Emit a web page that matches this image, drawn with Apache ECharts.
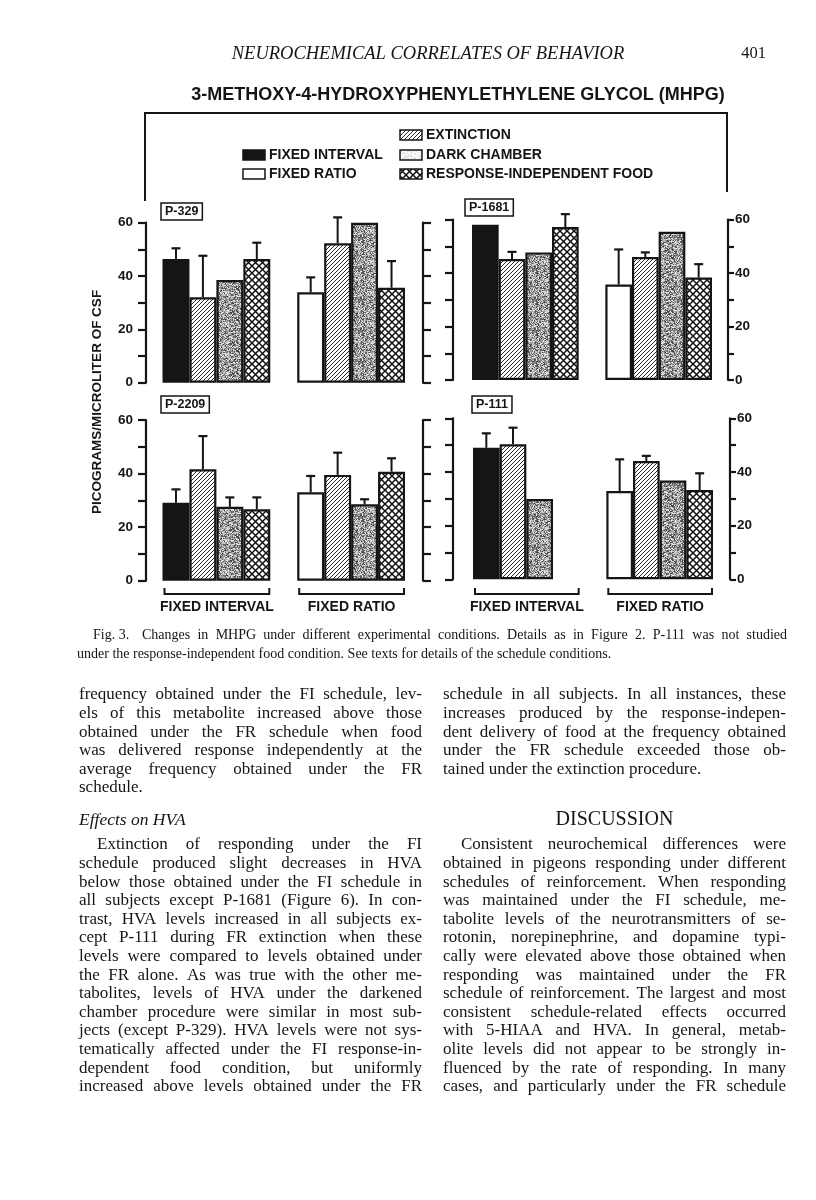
<!DOCTYPE html>
<html><head><meta charset="utf-8">
<script src="https://cdn.jsdelivr.net/npm/echarts@6/dist/echarts.min.js"></script>
<style>html,body{margin:0;padding:0;background:#fff}#c{width:816px;height:1200px}</style>
</head><body><div id="c"></div>
<script>
// ---------------- DATA ----------------
const CATEGORIES = ['FI', 'EXT', 'DARK', 'RIF', '', 'FR', 'EXT', 'DARK', 'RIF'];
const Y_LABELS = [0, 20, 40, 60];
const SUBJECTS = ['P-329', 'P-1681', 'P-2209', 'P-111'];
const GROUPS = ['FIXED INTERVAL', 'FIXED RATIO'];
const LEGEND = ['FIXED INTERVAL', 'FIXED RATIO', 'EXTINCTION', 'DARK CHAMBER', 'RESPONSE-INDEPENDENT FOOD'];

// means (baseline, extinction, dark chamber, response-independent food) and tops of error bars
const P329_FI = [46.4, 32.0, 38.5, 46.4];
const P329_FI_ERR = [50.4, 47.6, null, 52.5];
const P329_FR = [33.9, 52.3, 60.0, 35.6];
const P329_FR_ERR = [39.5, 62.0, null, 45.6];

const P1681_FI = [58.0, 45.2, 47.7, 57.2];
const P1681_FI_ERR = [null, 47.9, null, 62.0];
const P1681_FR = [35.7, 46.0, 55.4, 38.3];
const P1681_FR_ERR = [48.8, 47.7, null, 43.3];

const P2209_FI = [29.1, 41.6, 27.6, 26.7];
const P2209_FI_ERR = [34.1, 54.0, 31.1, 31.1];
const P2209_FR = [33.0, 39.5, 28.5, 40.7];
const P2209_FR_ERR = [39.1, 47.8, 30.4, 45.7];

const P111_FI = [49.0, 50.3, 29.9, null];
const P111_FI_ERR = [54.4, 56.5, null, null];
const P111_FR = [32.9, 44.1, 36.8, 33.3];
const P111_FR_ERR = [44.7, 46.0, null, 39.5];

// ---------------- TEXTS ----------------
const HEADER = 'NEUROCHEMICAL CORRELATES OF BEHAVIOR';
const PAGE_NO = '401';
const TITLE = '3-METHOXY-4-HYDROXYPHENYLETHYLENE GLYCOL (MHPG)';
const Y_TITLE = 'PICOGRAMS/MICROLITER OF CSF';
const CAPTION_FIG = 'Fig. 3.';
const CAPTION_1 = 'Changes in MHPG under different experimental conditions. Details as in Figure 2. P-111 was not studied';
const CAPTION_2 = 'under the response-independent food condition. See texts for details of the schedule conditions.';
const LEFT_A = [
  'frequency obtained under the FI schedule, lev-',
  'els of this metabolite increased above those',
  'obtained under the FR schedule when food',
  'was delivered response independently at the',
  'average frequency obtained under the FR',
  'schedule.'
];
const LEFT_HEAD = 'Effects on HVA';
const LEFT_B = [
  'Extinction of responding under the FI',
  'schedule produced slight decreases in HVA',
  'below those obtained under the FI schedule in',
  'all subjects except P-1681 (Figure 6). In con-',
  'trast, HVA levels increased in all subjects ex-',
  'cept P-111 during FR extinction when these',
  'levels were compared to levels obtained under',
  'the FR alone. As was true with the other me-',
  'tabolites, levels of HVA under the darkened',
  'chamber procedure were similar in most sub-',
  'jects (except P-329). HVA levels were not sys-',
  'tematically affected under the FI response-in-',
  'dependent food condition, but uniformly',
  'increased above levels obtained under the FR'
];
const RIGHT_A = [
  'schedule in all subjects. In all instances, these',
  'increases produced by the response-indepen-',
  'dent delivery of food at the frequency obtained',
  'under the FR schedule exceeded those ob-',
  'tained under the extinction procedure.'
];
const RIGHT_HEAD = 'DISCUSSION';
const RIGHT_B = [
  'Consistent neurochemical differences were',
  'obtained in pigeons responding under different',
  'schedules of reinforcement. When responding',
  'was maintained under the FI schedule, me-',
  'tabolite levels of the neurotransmitters of se-',
  'rotonin, norepinephrine, and dopamine typi-',
  'cally were elevated above those obtained when',
  'responding was maintained under the FR',
  'schedule of reinforcement. The largest and most',
  'consistent schedule-related effects occurred',
  'with 5-HIAA and HVA. In general, metab-',
  'olite levels did not appear to be strongly in-',
  'fluenced by the rate of responding. In many',
  'cases, and particularly under the FR schedule'
];

// ---------------- STYLE HELPERS ----------------
const INK = '#151515';
const SANS = '"Liberation Sans", Arial, Helvetica, sans-serif';
const SERIF = '"Liberation Serif", "Times New Roman", serif';

function makeCanvas(w, h, draw) {
  const c = document.createElement('canvas'); c.width = w; c.height = h;
  draw(c.getContext('2d'), w, h); return c;
}
const hatchCanvas = makeCanvas(4, 4, (g, w, h) => {
  g.fillStyle = '#fff'; g.fillRect(0, 0, w, h);
  g.strokeStyle = '#2a2a2a'; g.lineWidth = 1.0;
  g.beginPath();
  g.moveTo(-1, h + 1); g.lineTo(w + 1, -1);
  g.moveTo(-1, 1); g.lineTo(1, -1);
  g.moveTo(w - 1, h + 1); g.lineTo(w + 1, h - 1);
  g.stroke();
});
const crossCanvas = makeCanvas(7, 7, (g, w, h) => {
  g.fillStyle = '#fff'; g.fillRect(0, 0, w, h);
  g.strokeStyle = '#111'; g.lineWidth = 1.5;
  g.beginPath();
  g.moveTo(0, 0); g.lineTo(w, h);
  g.moveTo(0, h); g.lineTo(w, 0);
  g.stroke();
});
// deterministic grainy gray texture (hash based, no randomness)
function stippleCanvas(base, amp) {
  return makeCanvas(29, 31, (g, w, h) => {
    const img = g.createImageData(w, h);
    for (let y = 0; y < h; y++) for (let x = 0; x < w; x++) {
      let k = (x * 374761393 + y * 668265263) | 0;
      k = Math.imul(k ^ (k >>> 13), 1274126177);
      k = (k ^ (k >>> 16)) >>> 0;
      const t = (k % 1000) / 1000;
      const v = Math.max(0, Math.min(255, base + (t - 0.5) * 2 * amp));
      const i = (y * w + x) * 4;
      img.data[i] = img.data[i + 1] = img.data[i + 2] = v; img.data[i + 3] = 255;
    }
    g.putImageData(img, 0, 0);
  });
}
const HATCH = { image: hatchCanvas, repeat: 'repeat' };
const CROSS = { image: crossCanvas, repeat: 'repeat' };
const STIPPLE = { image: stippleCanvas(150, 95), repeat: 'repeat' };
const LIGHT_STIPPLE = { image: stippleCanvas(240, 25), repeat: 'repeat' };
const FILLS = [INK, HATCH, STIPPLE, CROSS, null, '#fff', HATCH, STIPPLE, CROSS];

// ---------------- PANELS ----------------
const PANELS = [
  { name: SUBJECTS[0], fi: P329_FI, fiErr: P329_FI_ERR, fr: P329_FR, frErr: P329_FR_ERR,
    grid: { left: 162.5, top: 222.7, width: 242.5, height: 160 }, side: 'left', mainOff: 16.5, brOff: 18, tag: [161, 203] },
  { name: SUBJECTS[1], fi: P1681_FI, fiErr: P1681_FI_ERR, fr: P1681_FR, frErr: P1681_FR_ERR,
    grid: { left: 472, top: 219.5, width: 240, height: 160.5 }, side: 'right', mainOff: 16, brOff: 19, tag: [465, 199] },
  { name: SUBJECTS[2], fi: P2209_FI, fiErr: P2209_FI_ERR, fr: P2209_FR, frErr: P2209_FR_ERR,
    grid: { left: 162.5, top: 420, width: 242.5, height: 160.7 }, side: 'left', mainOff: 16.5, brOff: 18, tag: [161, 396] },
  { name: SUBJECTS[3], fi: P111_FI, fiErr: P111_FI_ERR, fr: P111_FR, frErr: P111_FR_ERR,
    grid: { left: 473, top: 418.3, width: 240, height: 161 }, side: 'right', mainOff: 17, brOff: 20, tag: [472, 396] }
];

const grids = [], xAxes = [], yAxes = [], series = [];
function errRender(params, api) {
  const p0 = api.coord([api.value(0), api.value(1)]);
  const p1 = api.coord([api.value(0), api.value(2)]);
  return { type: 'group', children: [
    { type: 'line', shape: { x1: p0[0], y1: p0[1], x2: p1[0], y2: p1[1] }, style: { stroke: INK, lineWidth: 2 } },
    { type: 'line', shape: { x1: p1[0] - 4.5, y1: p1[1], x2: p1[0] + 4.5, y2: p1[1] }, style: { stroke: INK, lineWidth: 2.2 } }
  ] };
}
PANELS.forEach((p, i) => {
  grids.push(Object.assign({ containLabel: false }, p.grid));
  xAxes.push({ type: 'category', gridIndex: i, data: CATEGORIES, boundaryGap: true,
    axisLine: { show: false }, axisTick: { show: false }, axisLabel: { show: false }, splitLine: { show: false } });
  const common = { type: 'value', gridIndex: i, min: 0, max: 60, interval: 10, splitLine: { show: false },
    axisLine: { show: true, onZero: false, lineStyle: { color: INK, width: 2.2 } } };
  const labelsLeft = p.side === 'left';
  yAxes.push(Object.assign({}, common, {
    position: p.side, offset: p.mainOff,
    axisTick: { show: true, length: labelsLeft ? 8 : 6, lineStyle: { color: INK, width: 2.2 } },
    axisLabel: { show: true, margin: labelsLeft ? 13 : 7, color: INK, fontFamily: SANS, fontWeight: 'bold', fontSize: 13.5,
      formatter: v => (Y_LABELS.indexOf(v) >= 0 ? String(v) : '') }
  }));
  yAxes.push(Object.assign({}, common, {
    position: labelsLeft ? 'right' : 'left', offset: p.brOff,
    axisTick: { show: true, length: 8, lineStyle: { color: INK, width: 2.2 } },
    axisLabel: { show: false }
  }));
  const vals = p.fi.concat([null], p.fr);
  const errs = p.fiErr.concat([null], p.frErr);
  series.push({ type: 'bar', xAxisIndex: i, yAxisIndex: i * 2, barWidth: '100%', silent: true,
    data: vals.map((v, k) => v == null ? { value: null } :
      { value: v, itemStyle: { color: FILLS[k], borderColor: INK, borderWidth: 2.2 } }) });
  const ed = [];
  vals.forEach((v, k) => { if (v != null && errs[k] != null) ed.push([k, v, errs[k]]); });
  series.push({ type: 'custom', xAxisIndex: i, yAxisIndex: i * 2, clip: false, z: 5, silent: true,
    encode: { x: 0, y: [1, 2] }, data: ed, renderItem: errRender });
});

// ---------------- TEXT HELPERS ----------------
const mctx = document.createElement('canvas').getContext('2d');
function tw(t, font) { mctx.font = font; return mctx.measureText(t).width; }
function txt(t, x, y, font, extra) {
  return Object.assign({ type: 'text', x: x, y: y, silent: true,
    style: Object.assign({ text: t, font: font, fill: INK, textVerticalAlign: 'middle', verticalAlign: 'middle' }, extra || {}) });
}
function line(els, t, x, y, width, font, justify) {
  if (!justify) { els.push(txt(t, x, y, font)); return; }
  const words = t.split(' ');
  const ws = words.map(w => tw(w, font));
  const total = ws.reduce((a, b) => a + b, 0);
  const gap = words.length > 1 ? (width - total) / (words.length - 1) : 0;
  let cx = x;
  words.forEach((w, i) => { els.push(txt(w, cx, y, font)); cx += ws[i] + gap; });
}
function column(els, lines, x, y0, step, width, font, indentFirst, lastJustify) {
  lines.forEach((t, i) => {
    const ind = (i === 0 && indentFirst) ? 18 : 0;
    const last = i === lines.length - 1;
    line(els, t, x + ind, y0 + i * step, width - ind, font, last ? lastJustify : true);
  });
}

const graphics = [];
// running head
graphics.push(txt(HEADER, 428, 54, 'italic 18.5px ' + SERIF, { textAlign: 'center', align: 'center' }));
graphics.push(txt(PAGE_NO, 766, 54, '16.5px ' + SERIF, { textAlign: 'right', align: 'right' }));
// title
graphics.push(txt(TITLE, 458, 95, 'bold 18px ' + SANS, { textAlign: 'center', align: 'center' }));
// frame
graphics.push({ type: 'polyline', silent: true, shape: { points: [[145, 201], [145, 113], [727, 113], [727, 192]] },
  style: { stroke: INK, lineWidth: 2, fill: null } });
// legend
const LFONT = 'bold 14px ' + SANS;
[[LEGEND[2], HATCH, 400, 135], [LEGEND[0], INK, 243, 155], [LEGEND[3], LIGHT_STIPPLE, 400, 155],
 [LEGEND[1], '#fff', 243, 174], [LEGEND[4], CROSS, 400, 174]].forEach(it => {
  graphics.push({ type: 'rect', silent: true, shape: { x: it[2], y: it[3] - 5, width: 22, height: 10 },
    style: { fill: it[1], stroke: INK, lineWidth: 1.5 } });
  graphics.push(txt(it[0], it[2] + 26, it[3] + 0.5, LFONT));
});
// y title
graphics.push(txt(Y_TITLE, 97, 402, 'bold 13.5px ' + SANS, { textAlign: 'center', align: 'center' }));
graphics[graphics.length - 1].rotation = Math.PI / 2;
// subject tags
PANELS.forEach(p => {
  const f = 'bold 12.5px ' + SANS;
  const w = tw(p.name, f) + 8;
  graphics.push({ type: 'rect', silent: true, shape: { x: p.tag[0], y: p.tag[1], width: w, height: 17 },
    style: { fill: '#fff', stroke: INK, lineWidth: 1.5 } });
  graphics.push(txt(p.name, p.tag[0] + 4, p.tag[1] + 9, f));
});
// caption
const CFONT = '14px ' + SERIF;
graphics.push(txt(CAPTION_FIG, 93, 635, CFONT));
line(graphics, CAPTION_1, 142, 635, 787 - 142, CFONT, true);
graphics.push(txt(CAPTION_2, 77, 654, CFONT));
// body (two justified columns on a common baseline grid)
const BFONT = '17px ' + SERIF;
const STEP = 18.6;
const COL_L = 79, COL_R = 443, COL_W = 343;
column(graphics, LEFT_A, COL_L, 695, STEP, COL_W, BFONT, false, false);
graphics.push(txt(LEFT_HEAD, COL_L, 820, 'italic 17.5px ' + SERIF));
column(graphics, LEFT_B, COL_L, 845, STEP, COL_W, BFONT, true, true);
column(graphics, RIGHT_A, COL_R, 695, STEP, COL_W, BFONT, false, false);
graphics.push(txt(RIGHT_HEAD, COL_R + COL_W / 2, 820, '20px ' + SERIF, { textAlign: 'center', align: 'center' }));
column(graphics, RIGHT_B, COL_R, 845, STEP, COL_W, BFONT, true, true);

const chart = echarts.init(document.getElementById('c'), null, { renderer: 'canvas', width: 816, height: 1200 });
chart.setOption({
  animation: false, backgroundColor: '#fff',
  grid: grids, xAxis: xAxes, yAxis: yAxes, series: series, graphic: { elements: graphics }
});

// group brackets and labels under the bottom panels, located through the category axes
const extra = [];
[2, 3].forEach(i => {
  const slot = chart.convertToPixel({ xAxisIndex: i }, 1) - chart.convertToPixel({ xAxisIndex: i }, 0);
  [[0, 3], [5, 8]].forEach((rg, gi) => {
    const x0 = chart.convertToPixel({ xAxisIndex: i }, rg[0]) - slot / 2 + 2;
    const x1 = chart.convertToPixel({ xAxisIndex: i }, rg[1]) + slot / 2 - 1;
    const y = 594;
    extra.push({ type: 'polyline', silent: true, shape: { points: [[x0, y - 6], [x0, y], [x1, y], [x1, y - 6]] },
      style: { stroke: INK, lineWidth: 2, fill: null } });
    extra.push(txt(GROUPS[gi], (x0 + x1) / 2, 607, 'bold 14px ' + SANS, { textAlign: 'center', align: 'center' }));
  });
});
chart.setOption({ graphic: { elements: graphics.concat(extra) } }, { replaceMerge: ['graphic'] });
</script></body></html>
